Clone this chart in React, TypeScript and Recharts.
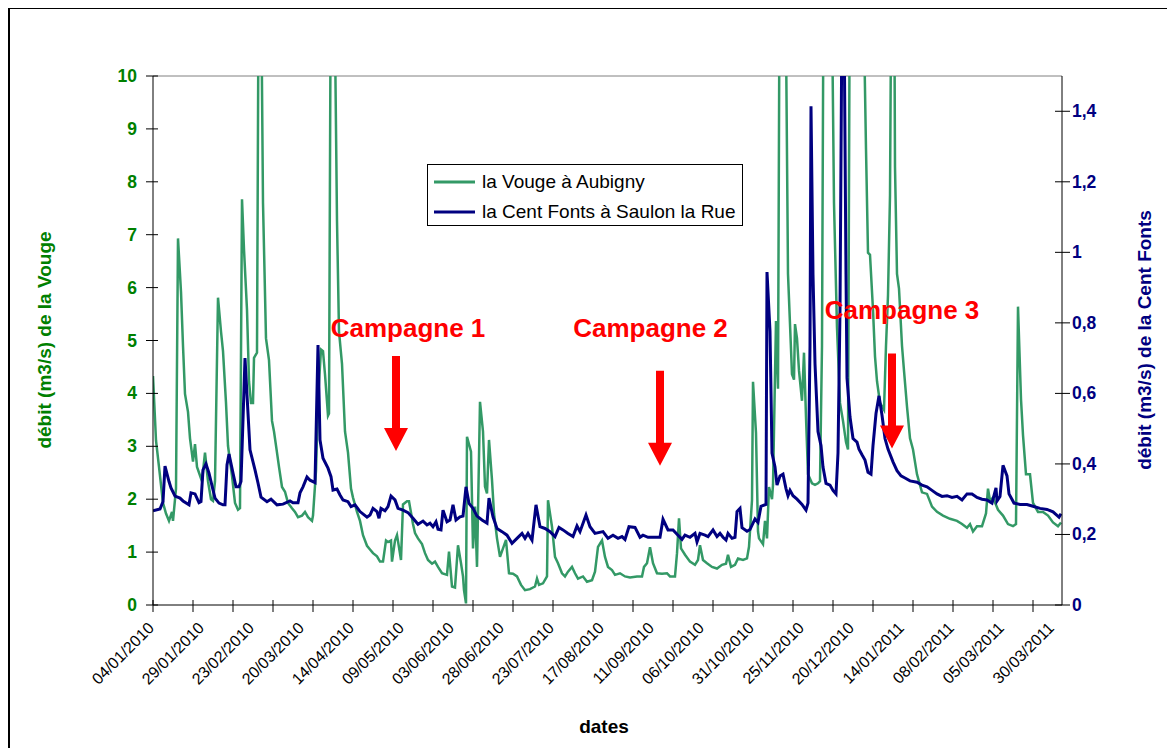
import { LineChart, Line, XAxis, YAxis, Legend, ReferenceLine, ReferenceDot } from 'recharts';

// x positions are days counted from 04/01/2010
const dateLabels = [
  '04/01/2010', '29/01/2010', '23/02/2010', '20/03/2010', '14/04/2010', '09/05/2010', '03/06/2010',
  '28/06/2010', '23/07/2010', '17/08/2010', '11/09/2010', '06/10/2010', '31/10/2010', '25/11/2010',
  '20/12/2010', '14/01/2011', '08/02/2011', '05/03/2011', '30/03/2011',
];
const labelStep = 25;
const markStep = 20;
const lastDay = 454.5;

const seriesNames = ['la Vouge à Aubigny', 'la Cent Fonts à Saulon la Rue'];

// la Vouge à Aubigny (m3/s)
const vougeDays = [
  0, 1.5, 3, 5, 6.5, 8, 9.5, 10, 11.5, 12.5, 14, 15, 16, 17.5, 18.5, 20, 21, 22, 24.5, 26, 27.5, 29, 30, 31,
  32.5, 34, 35, 36.5, 37.5, 39.5, 41, 42.5, 43.5, 44.5, 45.5, 47, 48, 49, 50, 50.5, 52, 53, 54, 55, 56.5, 58,
  59.5, 60.5, 62, 63, 64.5, 66, 67.5, 69.5, 71, 72.5, 74.5, 76, 77.5, 79.5, 80, 81.5, 82.5, 84, 85, 86, 87.5,
  88, 89, 90.5, 92, 93, 94.5, 96, 97.5, 99, 100, 102, 103.5, 105, 107, 108.5, 110, 112, 113.5, 115, 116.5,
  117.5, 119, 119.5, 121, 122, 123, 124, 125, 127, 128, 130, 131, 132.5, 134.5, 136, 137.5, 139.5, 141,
  142.5, 144.5, 147, 148, 149.5, 151, 152.5, 154, 155, 155.5, 156.5, 157, 159, 160, 161, 162, 163.5, 165,
  166, 167, 168, 169.5, 170.5, 172, 173.5, 175, 176.5, 178, 180, 182, 184, 186, 188.5, 191, 192, 193, 195,
  197, 197.5, 199.5, 201, 202.5, 204.5, 206, 207.5, 209.5, 211, 212.5, 215, 217, 219.5, 221, 222.5, 224.5,
  226, 227.5, 229.5, 231, 233.5, 236, 238.5, 242, 244.5, 245.5, 247, 248.5, 250, 252, 254.5, 257, 258.5,
  261, 262, 263, 264, 266, 268.5, 271, 272.5, 273.5, 275, 277, 279.5, 282, 284.5, 286.5, 287.5, 289, 291,
  292.5, 295, 297, 298, 299.5, 300, 301.5, 302.5, 303, 305, 306, 307, 308, 309.5, 310, 311.5, 312.5, 313.5,
  316, 317.5, 319.5, 320.5, 321, 322, 323, 324.5, 325.5, 326.5, 327.5, 329.5, 331, 332.5, 333.5, 334.5,
  335.5, 339, 340.5, 342, 343.5, 345, 346.5, 347.5, 348.5, 355, 356.5, 357.5, 358.5, 360, 361, 362, 363.5,
  365.5, 366.5, 367.5, 368.5, 369.5, 370.5, 371, 372, 373, 374.5, 375.5, 377, 378.5, 380, 382, 384.5, 387,
  389.5, 392, 395, 398.5, 402, 404.5, 407, 408.5, 410, 412, 414.5, 416.5, 417.5, 418.5, 420, 422.5, 425,
  427.5, 430, 431.5, 432.5, 434, 435, 436.5, 438.5, 440, 442.5, 445, 447.5, 450, 452.5, 454,
];
const vougeFlow = [
  4.33, 3.11, 2.61, 1.93, 1.73, 1.59, 1.76, 1.59, 2.2, 6.93, 5.92, 4.9, 3.99, 3.65, 3.15, 2.71, 3.04, 2.61,
  2.34, 2.88, 2.34, 2.0, 1.97, 2.34, 5.81, 5.17, 4.8, 3.82, 3.01, 2.44, 1.93, 1.8, 1.83, 7.67, 6.72, 5.58,
  4.23, 3.82, 3.82, 4.67, 4.77, 13.5, 12, 7.6, 5.04, 4.63, 3.48, 3.28, 2.88, 2.61, 2.23, 2.14, 1.93, 1.83,
  1.76, 1.66, 1.69, 1.76, 1.66, 1.59, 1.69, 2.54, 3.89, 4.83, 4.8, 4.36, 3.58, 3.62, 13, 12.5, 7.26, 5.17,
  4.56, 3.28, 2.88, 2.2, 2.03, 1.76, 1.59, 1.32, 1.12, 1.05, 0.98, 0.92, 0.82, 0.82, 1.22, 1.19, 1.22, 0.82,
  1.22, 1.32, 1.09, 0.85, 1.9, 1.96, 1.96, 1.53, 1.36, 1.26, 1.15, 0.98, 0.85, 0.78, 0.82, 0.72, 0.6, 0.57,
  1.01, 0.35, 0.33, 1.13, 0.79, 0.54, 0.28, 0.03, 3.18, 2.9, 1.07, 1.86, 0.72, 3.84, 3.28, 2.24, 2.11, 3.12,
  2.36, 1.73, 1.26, 0.91, 1.07, 1.23, 0.6, 0.59, 0.54, 0.38, 0.28, 0.3, 0.35, 0.5, 0.38, 0.41, 0.54, 1.98,
  1.48, 0.91, 0.79, 0.6, 0.54, 0.63, 0.72, 0.6, 0.5, 0.54, 0.44, 0.47, 0.63, 1.1, 1.22, 0.91, 0.72, 0.66,
  0.57, 0.6, 0.54, 0.52, 0.54, 0.54, 0.72, 0.79, 1.09, 0.79, 0.6, 0.59, 0.6, 0.54, 0.54, 0.98, 1.64, 1.07,
  0.95, 0.82, 0.76, 0.85, 1.13, 0.85, 0.79, 0.72, 0.69, 0.76, 0.78, 0.95, 0.72, 0.76, 0.88, 0.85, 0.88, 1.1,
  1.98, 4.22, 3.25, 1.39, 1.26, 1.15, 1.59, 1.26, 2.23, 2.0, 2.27, 5.37, 4.09, 14, 13, 6.26, 4.36, 4.26, 5.31,
  5.04, 4.43, 3.86, 4.77, 3.55, 2.47, 2.3, 2.27, 2.3, 2.34, 4.9, 14, 13, 7.6, 5.24, 3.82, 3.48, 3.08, 2.94,
  13, 12, 8.62, 6.66, 6.62, 5.58, 4.7, 4.23, 3.82, 3.69, 4.9, 5.85, 7.74, 14, 13, 8.28, 6.26, 5.98, 4.9, 4.43,
  3.75, 3.15, 2.94, 2.47, 2.13, 2.1, 1.86, 1.76, 1.69, 1.63, 1.59, 1.53, 1.46, 1.53, 1.39, 1.49, 1.49, 1.73,
  2.2, 1.97, 2.03, 1.8, 1.69, 1.53, 1.49, 1.53, 5.64, 3.89, 3.21, 2.47, 2.47, 1.93, 1.76, 1.76, 1.69, 1.56,
  1.49, 1.56,
];

// la Cent Fonts à Saulon la Rue (m3/s)
const centFontsDays = [
  0, 3.5, 5, 6, 8, 9, 11, 13.5, 15, 18, 19, 21, 23, 24, 25, 26.5, 28, 29, 31, 33, 35, 36, 37, 38, 40, 41.5,
  43, 44, 46, 48.5, 51, 52.5, 54, 57, 59, 62, 65, 68.5, 70, 72.5, 73.5, 75, 77, 78.5, 81, 82.5, 83.5, 85,
  87.5, 89, 90, 92, 93.5, 95, 97.5, 99, 101, 103.5, 107, 108.5, 110, 112, 113, 114, 116, 117.5, 119, 121,
  122.5, 125, 127.5, 130, 132.5, 135, 137, 138.5, 140, 141.5, 142.5, 144, 145, 147, 148.5, 150, 151.5,
  153.5, 155, 156.5, 158, 160, 162, 164.5, 167, 168, 170, 172, 174.5, 177, 179.5, 182, 184.5, 186, 187.5,
  189.5, 191.5, 193.5, 196, 198.5, 201, 203, 205, 207.5, 210, 212, 213.5, 216.5, 218.5, 221, 225, 227.5,
  230, 232.5, 234.5, 236, 238, 241, 243.5, 245, 247.5, 253.5, 255, 257.5, 260, 262.5, 264.5, 266, 268.5,
  271, 272, 273.5, 276, 277.5, 280, 282, 283.5, 285, 286.5, 287.5, 289.5, 291, 292, 293.5, 294.5, 297,
  298.5, 301, 302.5, 304, 306.5, 307, 308.5, 309.5, 311, 312, 313.5, 315, 316.5, 317.5, 318.5, 320, 322,
  324.5, 326.5, 327.5, 328.5, 329, 330, 331, 332.5, 334, 335, 336.5, 338.5, 340, 341.5, 342.5, 343.5, 344.5,
  345.5, 346.5, 347, 348.5, 350, 352, 353, 354.5, 356, 357.5, 359, 360, 361.5, 363, 364.5, 366, 367.5, 370,
  372, 374, 376, 378.5, 382, 384.5, 387, 389.5, 392, 394.5, 397, 399.5, 402, 404.5, 407, 409.5, 412, 414.5,
  417, 419.5, 421.5, 422, 423.5, 425, 427, 428, 430.5, 433.5, 437, 440, 443.5, 447, 450, 452, 453, 454,
];
const centFontsFlow = [
  0.267, 0.272, 0.293, 0.394, 0.35, 0.332, 0.309, 0.303, 0.295, 0.284, 0.318, 0.315, 0.29, 0.293, 0.383,
  0.4, 0.374, 0.35, 0.303, 0.289, 0.284, 0.284, 0.397, 0.428, 0.374, 0.335, 0.335, 0.35, 0.7, 0.44, 0.383,
  0.346, 0.306, 0.293, 0.3, 0.284, 0.286, 0.295, 0.29, 0.29, 0.318, 0.335, 0.363, 0.354, 0.347, 0.737,
  0.468, 0.416, 0.388, 0.364, 0.326, 0.329, 0.312, 0.298, 0.293, 0.279, 0.284, 0.265, 0.249, 0.255, 0.274,
  0.265, 0.246, 0.274, 0.267, 0.279, 0.309, 0.298, 0.274, 0.269, 0.262, 0.246, 0.229, 0.238, 0.227, 0.232,
  0.222, 0.236, 0.215, 0.213, 0.269, 0.236, 0.241, 0.284, 0.241, 0.25, 0.252, 0.335, 0.288, 0.274, 0.252,
  0.241, 0.232, 0.303, 0.25, 0.217, 0.208, 0.198, 0.175, 0.189, 0.203, 0.189, 0.203, 0.184, 0.284, 0.222,
  0.217, 0.208, 0.194, 0.22, 0.213, 0.203, 0.194, 0.224, 0.208, 0.255, 0.222, 0.203, 0.208, 0.189, 0.198,
  0.189, 0.194, 0.186, 0.222, 0.22, 0.192, 0.198, 0.192, 0.192, 0.243, 0.213, 0.213, 0.198, 0.186, 0.198,
  0.192, 0.203, 0.179, 0.203, 0.198, 0.194, 0.213, 0.194, 0.203, 0.192, 0.184, 0.203, 0.189, 0.192, 0.265,
  0.274, 0.219, 0.209, 0.214, 0.244, 0.234, 0.28, 0.285, 0.944, 0.776, 0.431, 0.391, 0.34, 0.366, 0.371,
  0.33, 0.31, 0.325, 0.31, 0.3, 0.285, 0.269, 0.289, 0.735, 1.414, 0.938, 0.684, 0.492, 0.452, 0.391, 0.345,
  0.34, 0.325, 0.315, 0.431, 0.836, 1.7, 1.7, 0.938, 0.644, 0.533, 0.472, 0.462, 0.442, 0.426, 0.411, 0.376,
  0.371, 0.452, 0.543, 0.593, 0.538, 0.472, 0.442, 0.406, 0.381, 0.366, 0.36, 0.352, 0.348, 0.34, 0.335,
  0.325, 0.315, 0.308, 0.31, 0.305, 0.308, 0.298, 0.315, 0.315, 0.305, 0.3, 0.298, 0.289, 0.332, 0.295,
  0.308, 0.396, 0.366, 0.315, 0.289, 0.285, 0.285, 0.28, 0.274, 0.271, 0.264, 0.254, 0.249, 0.259,
];

// sampling campaigns: arrow tip and caption, both on the Vouge axis
const campaignNames = ['Campagne 1', 'Campagne 2', 'Campagne 3'];
const campaignDays = [121.5, 253.5, 369.5];
const campaignTips = [2.91, 2.63, 2.96];
const captionDays = [127.5, 248.75, 374.5];
const captionLevels = [5.07, 5.07, 5.41];

const vougeData = vougeDays.map((day, i) => ({ day, flow: vougeFlow[i] }));
const centFontsData = centFontsDays.map((day, i) => ({ day, flow: centFontsFlow[i] }));

const vougeTicks = [0, 1, 2, 3, 4, 5, 6, 7, 8, 9, 10];
const centFontsTicks = [0, 0.2, 0.4, 0.6, 0.8, 1, 1.2, 1.4];

const dayTicks: number[] = [];
for (let d = 0; d <= lastDay; d += 5) {
  if (d % markStep === 0 || d % labelStep === 0) dayTicks.push(d);
}

const FONT = 'Arial, "Liberation Sans", sans-serif';
const GREEN = '#339966';
const NAVY = '#000080';

function VougeTick({ x, y, payload }: any) {
  const ax = x + 8;
  return (
    <g>
      <line x1={ax - 7} x2={ax + 5} y1={y} y2={y} stroke="#000" />
      <text x={ax - 16} y={y} dy={6} textAnchor="end" fill="#008000" fontSize={17.5} fontWeight="bold" fontFamily={FONT}>
        {payload.value}
      </text>
    </g>
  );
}

function CentFontsTick({ x, y, payload }: any) {
  const ax = x - 8;
  return (
    <g>
      <line x1={ax - 7} x2={ax + 8} y1={y} y2={y} stroke="#000" />
      <text x={ax + 10} y={y} dy={6} textAnchor="start" fill={NAVY} fontSize={17.5} fontWeight="bold" fontFamily={FONT}>
        {String(payload.value).replace('.', ',')}
      </text>
    </g>
  );
}

function DateTick({ x, y, payload }: any) {
  const ay = y - 8;
  const d = payload.value;
  const lx = x + 2;
  const ly = ay + 24;
  return (
    <g>
      {d % markStep === 0 && <line x1={x} x2={x} y1={ay - 5} y2={ay + 7} stroke="#000" />}
      {d % labelStep === 0 && (
        <text x={lx} y={ly} textAnchor="end" transform={`rotate(-45 ${lx} ${ly})`} fontSize={16} fill="#000" fontFamily={FONT}>
          {dateLabels[d / labelStep]}
        </text>
      )}
    </g>
  );
}

function CampaignArrow({ cx, cy }: any) {
  const pts = [
    [cx - 4, cy - 95], [cx + 4, cy - 95], [cx + 4, cy - 23], [cx + 12, cy - 23],
    [cx, cy], [cx - 12, cy - 23], [cx - 4, cy - 23],
  ].map((p) => p.join(',')).join(' ');
  return <polygon points={pts} fill="#ff0000" />;
}

function SeriesLegend({ payload }: any) {
  const entries = [...(payload || [])].sort(
    (a: any, b: any) => seriesNames.indexOf(a.value) - seriesNames.indexOf(b.value),
  );
  return (
    <div style={{ position: 'relative', width: 316, height: 62, border: '1px solid #000', boxSizing: 'border-box', background: '#fff' }}>
      {entries.map((entry: any, i: number) => (
        <div key={entry.value} style={{ position: 'absolute', left: 6, top: 5 + i * 29.5, height: 24, display: 'flex', alignItems: 'center', whiteSpace: 'nowrap' }}>
          <svg width={41} height={6} style={{ marginRight: 7 }}>
            <line x1={0} x2={41} y1={3} y2={3} stroke={entry.color} strokeWidth={3} />
          </svg>
          <span style={{ fontFamily: FONT, fontSize: 19, color: '#000' }}>{entry.value}</span>
        </div>
      ))}
    </div>
  );
}

const titleStyle = {
  position: 'absolute' as const,
  transform: 'translate(-50%, -50%) rotate(-90deg)',
  whiteSpace: 'nowrap' as const,
  fontFamily: FONT,
  fontWeight: 'bold' as const,
  fontSize: 19,
};

export default function App() {
  return (
    <div style={{ position: 'relative', width: 1167, height: 741, marginTop: -1, boxSizing: 'border-box', borderLeft: '2px solid #000', borderTop: '2px solid #000', background: '#fff' }}>
      <LineChart width={1165} height={739} margin={{ top: 67, right: 0, bottom: 0, left: 0 }}>
        <XAxis
          type="number"
          dataKey="day"
          domain={[0, lastDay]}
          allowDataOverflow
          ticks={dayTicks}
          interval={0}
          height={143}
          tickLine={false}
          tick={DateTick}
          stroke="#000"
        />
        <YAxis
          yAxisId="left"
          domain={[0, 10]}
          ticks={vougeTicks}
          allowDataOverflow
          interval={0}
          width={143}
          tickLine={false}
          tick={VougeTick}
          stroke="#000"
        />
        <YAxis
          yAxisId="right"
          orientation="right"
          domain={[0, 1.5]}
          ticks={centFontsTicks}
          allowDataOverflow
          interval={0}
          width={113}
          tickLine={false}
          tick={CentFontsTick}
          stroke="#000"
        />
        <ReferenceLine yAxisId="left" y={10} stroke="#808080" />
        <Line
          yAxisId="left"
          data={vougeData}
          dataKey="flow"
          name={seriesNames[0]}
          type="linear"
          stroke={GREEN}
          strokeWidth={2.5}
          dot={false}
          isAnimationActive={false}
        />
        <Line
          yAxisId="right"
          data={centFontsData}
          dataKey="flow"
          name={seriesNames[1]}
          type="linear"
          stroke={NAVY}
          strokeWidth={3}
          dot={false}
          isAnimationActive={false}
        />
        {campaignDays.map((d, i) => (
          <ReferenceDot key={`arrow-${i}`} yAxisId="left" x={d} y={campaignTips[i]} r={0} shape={CampaignArrow} />
        ))}
        {captionDays.map((d, i) => (
          <ReferenceDot
            key={`caption-${i}`}
            yAxisId="left"
            x={d}
            y={captionLevels[i]}
            r={0}
            shape={({ cx, cy }: any) => (
              <text x={cx} y={cy} textAnchor="middle" fill="#ff0000" fontSize={26} fontWeight="bold" fontFamily={FONT}>
                {campaignNames[i]}
              </text>
            )}
          />
        ))}
        <Legend
          layout="vertical"
          align="center"
          verticalAlign="middle"
          wrapperStyle={{ left: 417, top: 155, width: 316, height: 62 }}
          content={SeriesLegend}
        />
      </LineChart>
      <div style={{ ...titleStyle, left: 35, top: 331, color: '#008000' }}>débit (m3/s) de la Vouge</div>
      <div style={{ ...titleStyle, left: 1135, top: 331, color: NAVY }}>débit (m3/s) de la Cent Fonts</div>
      <div style={{ position: 'absolute', left: 594, top: 718, transform: 'translate(-50%, -50%)', fontFamily: FONT, fontWeight: 'bold', fontSize: 19 }}>
        dates
      </div>
    </div>
  );
}
